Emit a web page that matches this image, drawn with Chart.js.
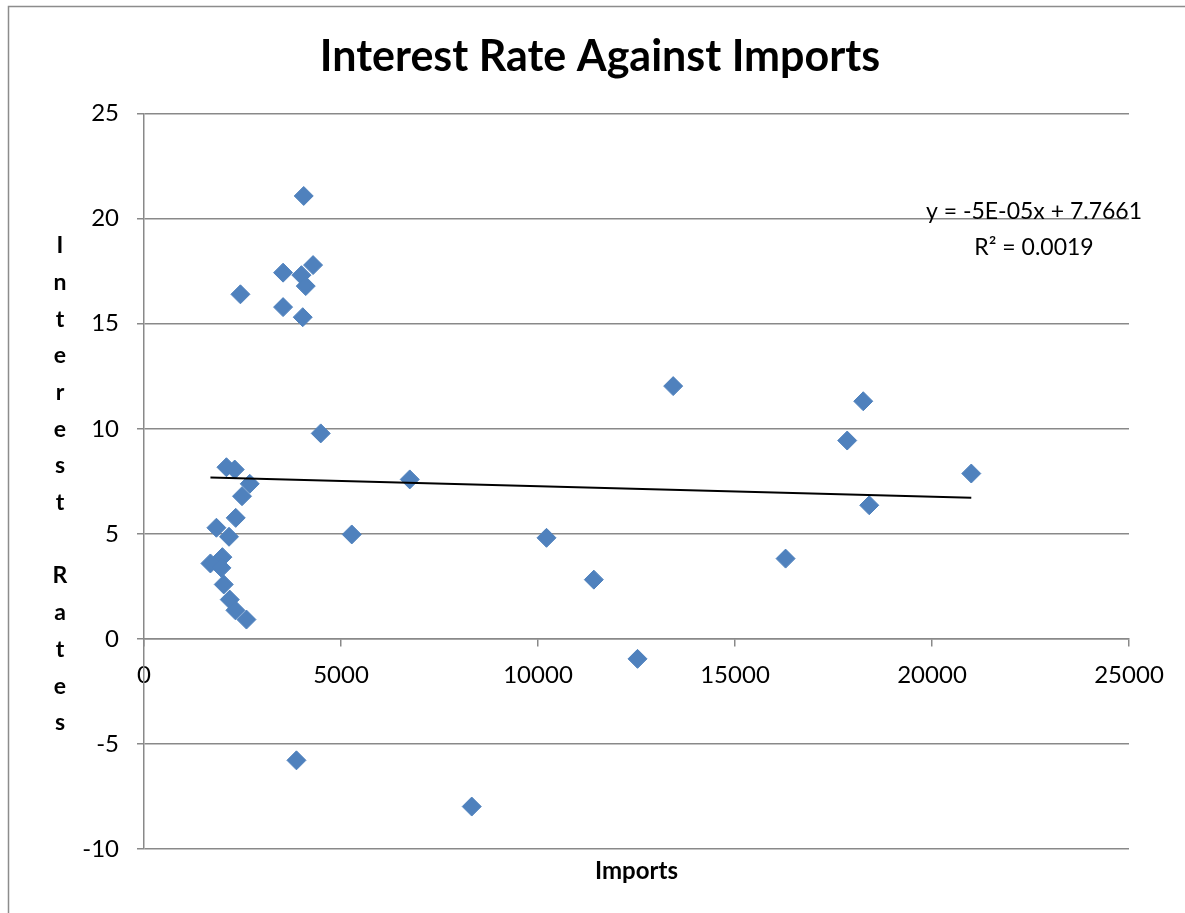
<!DOCTYPE html>
<html>
<head>
<meta charset="utf-8">
<script src="https://cdn.jsdelivr.net/npm/chart.js@4/dist/chart.umd.min.js"></script>
<style>
  html, body { margin: 0; padding: 0; background: #ffffff; }
  #wrap { position: relative; width: 1185px; height: 913px; }
</style>
</head>
<body>
<div id="wrap"><canvas id="chart" width="1185" height="913"></canvas></div>
<script>
// Imports (x) and interest rates (y), one entry per observation
const imports = [
  4054, 3530, 3996, 4291, 4105, 3530, 4029, 2447, 4486, 6745,
  5273, 10216, 11417, 12526, 13431, 16284, 17848, 18255, 18407, 20997,
  3869, 8318, 2092, 2303, 2684, 2488, 2328, 1838, 2158, 1990,
  1686, 1965, 2024, 2176, 2320, 2600
];
const rates = [
  21.08, 17.43, 17.31, 17.79, 16.79, 15.79, 15.31, 16.40, 9.78, 7.59,
  4.97, 4.81, 2.82, -0.95, 12.03, 3.82, 9.44, 11.31, 6.36, 7.87,
  -5.78, -7.98, 8.17, 8.06, 7.38, 6.79, 5.76, 5.29, 4.86, 3.89,
  3.59, 3.38, 2.59, 1.87, 1.36, 0.92
];

// Axis tick values
const xTicks = [0, 5000, 10000, 15000, 20000, 25000];
const yTicks = [-10, -5, 0, 5, 10, 15, 20, 25];

// Linear trendline as reported on the chart
const trendSlope = -5e-5;
const trendIntercept = 7.7661;
const trendLabel = ['y = -5E-05x + 7.7661', 'R\u00B2 = 0.0019'];

const chartTitle = 'Interest Rate Against Imports';
const xTitle = 'Imports';
const yTitle = 'Interest Rates';

const FONT = 'Lato, "Open Sans", "Liberation Sans", sans-serif';
const GRID = '#898989';

const points = imports.map((x, i) => ({ x: x, y: rates[i] }));
const xMin = Math.min(...imports);
const xMax = Math.max(...imports);
const trend = [xMin, xMax].map(x => ({ x: x, y: trendSlope * x + trendIntercept }));

// Frame, stacked vertical y title, bottom x title and trendline equation
const decorations = {
  id: 'decorations',
  beforeDraw(chart) {
    const ctx = chart.ctx;
    ctx.save();
    ctx.strokeStyle = '#8c8c8c';
    ctx.lineWidth = 1.5;
    ctx.strokeRect(8.5, 6.5, chart.width + 20, chart.height + 20);
    ctx.restore();
  },
  afterDraw(chart) {
    const ctx = chart.ctx;
    const area = chart.chartArea;
    ctx.save();
    ctx.fillStyle = '#000000';
    ctx.textAlign = 'center';
    ctx.textBaseline = 'middle';

    // y title, one letter per line
    ctx.font = 'bold 23px ' + FONT;
    const letters = yTitle.split('');
    const step = 36.7;
    const mid = (area.top + area.bottom) / 2 + 3;
    const start = mid - step * (letters.length - 1) / 2;
    letters.forEach((ch, i) => {
      if (ch !== ' ') ctx.fillText(ch, 60, start + i * step);
    });

    // x title
    ctx.font = 'bold 24px ' + FONT;
    ctx.fillText(xTitle, (area.left + area.right) / 2, area.bottom + 22);

    // trendline equation
    ctx.font = '23px ' + FONT;
    ctx.fillText(trendLabel[0], area.right - 95, area.top + 98);
    ctx.fillText(trendLabel[1], area.right - 95, area.top + 134);
    ctx.restore();
  }
};

new Chart(document.getElementById('chart'), {
  type: 'scatter',
  data: {
    datasets: [
      {
        label: 'Interest Rates',
        data: points,
        pointStyle: 'rectRot',
        pointRadius: 9.5,
        pointHoverRadius: 9.5,
        backgroundColor: '#4F81BD',
        borderColor: '#4F81BD',
        borderWidth: 1,
        order: 1
      },
      {
        type: 'line',
        label: 'Linear (Interest Rates)',
        data: trend,
        borderColor: '#000000',
        borderWidth: 2,
        pointRadius: 0,
        fill: false,
        order: 0
      }
    ]
  },
  options: {
    responsive: false,
    animation: false,
    devicePixelRatio: 1,
    layout: { padding: { left: 71, right: 56, top: 0, bottom: 64 } },
    plugins: {
      legend: { display: false },
      tooltip: { enabled: false },
      title: {
        display: true,
        text: chartTitle,
        color: '#000000',
        font: { family: FONT, size: 43, weight: 'bold', lineHeight: 1.2 },
        padding: { top: 31, bottom: 31 }
      }
    },
    scales: {
      x: {
        type: 'linear',
        position: { y: 0 },
        min: 0,
        max: 25000,
        afterBuildTicks: s => { s.ticks = xTicks.map(v => ({ value: v })); },
        ticks: {
          color: '#000000',
          font: { family: FONT, size: 24 },
          padding: 15,
          maxRotation: 0,
          callback: v => String(v)
        },
        grid: { drawOnChartArea: false, color: GRID, lineWidth: 1.5, tickLength: 7 },
        border: { display: true, color: GRID, width: 1.5 }
      },
      y: {
        type: 'linear',
        position: 'left',
        min: -10,
        max: 25,
        afterBuildTicks: s => { s.ticks = yTicks.map(v => ({ value: v })); },
        afterFit: s => { s.width = 73; },
        ticks: {
          color: '#000000',
          font: { family: FONT, size: 24 },
          padding: 18,
          callback: v => String(v)
        },
        grid: { color: GRID, lineWidth: 1.5, tickLength: 7 },
        border: { display: true, color: GRID, width: 1.5 }
      }
    }
  },
  plugins: [decorations]
});
</script>
</body>
</html>
